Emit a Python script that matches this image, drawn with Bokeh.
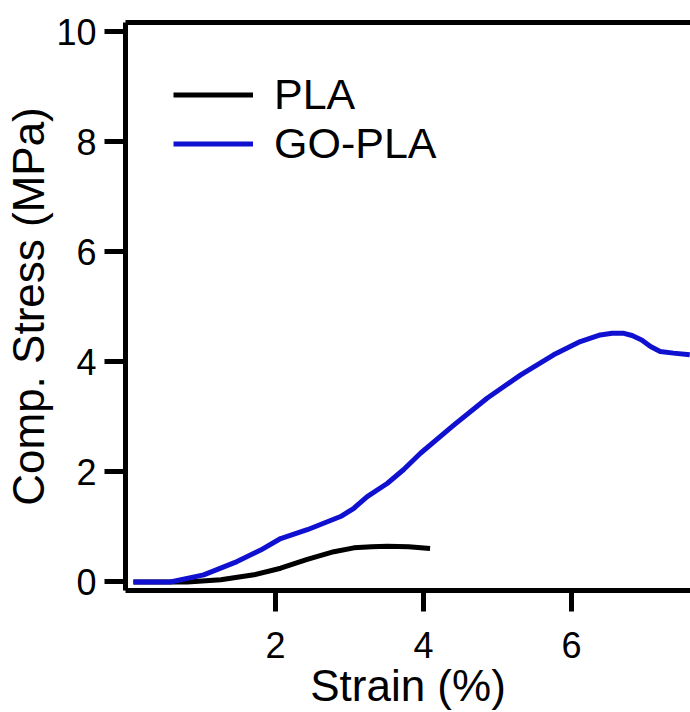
from bokeh.plotting import figure
from bokeh.models import Range1d, FixedTicker, LinearAxis, Legend, LegendItem
from bokeh.embed import file_html
from bokeh.resources import INLINE

# Data
pla_x = [0.08, 0.5, 0.81, 1.26, 1.71, 2.07, 2.43, 2.79, 3.06, 3.3, 3.51, 3.8, 4.09]
pla_y = [0.0, 0.0, 0.0, 0.04, 0.13, 0.25, 0.41, 0.55, 0.62, 0.64, 0.65, 0.64, 0.61]

gopla_x = [0.08, 0.58, 1.03, 1.48, 1.80, 2.07, 2.43, 2.88, 3.06, 3.24, 3.51, 3.73, 3.96,
           4.41, 4.86, 5.31, 5.76, 6.12, 6.39, 6.55, 6.71, 6.82, 6.95, 7.07, 7.2, 7.38, 7.6]
gopla_y = [0.0, 0.0, 0.13, 0.37, 0.58, 0.79, 0.95, 1.19, 1.34, 1.55, 1.79, 2.04, 2.34,
           2.85, 3.34, 3.76, 4.13, 4.37, 4.49, 4.52, 4.52, 4.48, 4.40, 4.28, 4.19, 4.16, 4.13]

series_names = ["PLA", "GO-PLA"]
series_colors = ["#000000", "#1010d0"]

x_ticks = [2, 4, 6]
y_ticks = [0, 2, 4, 6, 8, 10]

FONT = "Liberation Sans"

p = figure(width=690, height=712, output_backend="svg", toolbar_location=None,
           title_location=None,
           x_range=Range1d(-0.027, 7.61), y_range=Range1d(-0.155, 10.17),
           min_border_left=125, min_border_right=0, min_border_top=22,
           min_border_bottom=122)
p.outline_line_color = None
p.xgrid.visible = False
p.ygrid.visible = False
p.background_fill_color = "white"
p.border_fill_color = "white"

r1 = p.line(pla_x, pla_y, line_color=series_colors[0], line_width=5, line_join="round")
r2 = p.line(gopla_x, gopla_y, line_color=series_colors[1], line_width=5, line_join="round")

for ax in (p.xaxis[0], p.yaxis[0]):
    ax.axis_line_width = 5
    ax.axis_line_color = "black"
    ax.major_tick_line_width = 5
    ax.major_tick_line_color = "black"
    ax.major_tick_out = 21
    ax.major_tick_in = 0
    ax.minor_tick_line_color = None
    ax.major_label_text_font = FONT
    ax.major_label_text_font_size = "36px"
    ax.major_label_text_color = "black"
    ax.axis_label_text_font = FONT
    ax.axis_label_text_font_size = "44px"
    ax.axis_label_text_font_style = "normal"
    ax.axis_label_text_color = "black"

p.xaxis[0].ticker = FixedTicker(ticks=x_ticks)
p.yaxis[0].ticker = FixedTicker(ticks=y_ticks)
p.xaxis[0].axis_label = "Strain (%)"
p.yaxis[0].axis_label = "Comp. Stress (MPa)"
p.xaxis[0].major_label_standoff = 20
p.xaxis[0].axis_label_standoff = 0
p.yaxis[0].major_label_standoff = 8
p.yaxis[0].axis_label_standoff = 0

top = LinearAxis(ticker=FixedTicker(ticks=[]), axis_line_width=5, axis_line_color="black",
                 major_tick_out=0, major_tick_in=0, minor_tick_out=0, minor_tick_in=0,
                 major_label_text_font_size="0px", major_label_standoff=0,
                 axis_label=None, axis_label_standoff=0, axis_label_text_font_size="0px")
p.add_layout(top, "above")

legend = Legend(items=[LegendItem(label=series_names[0], renderers=[r1]),
                       LegendItem(label=series_names[1], renderers=[r2])],
                location="top_left", margin=48, padding=0, spacing=0,
                glyph_width=80, glyph_height=49, label_height=49, label_standoff=21,
                label_text_font=FONT, label_text_font_size="43px",
                label_text_color="black", border_line_color=None,
                background_fill_alpha=0)
p.add_layout(legend)

open("out.html", "w").write(file_html(p, INLINE))
